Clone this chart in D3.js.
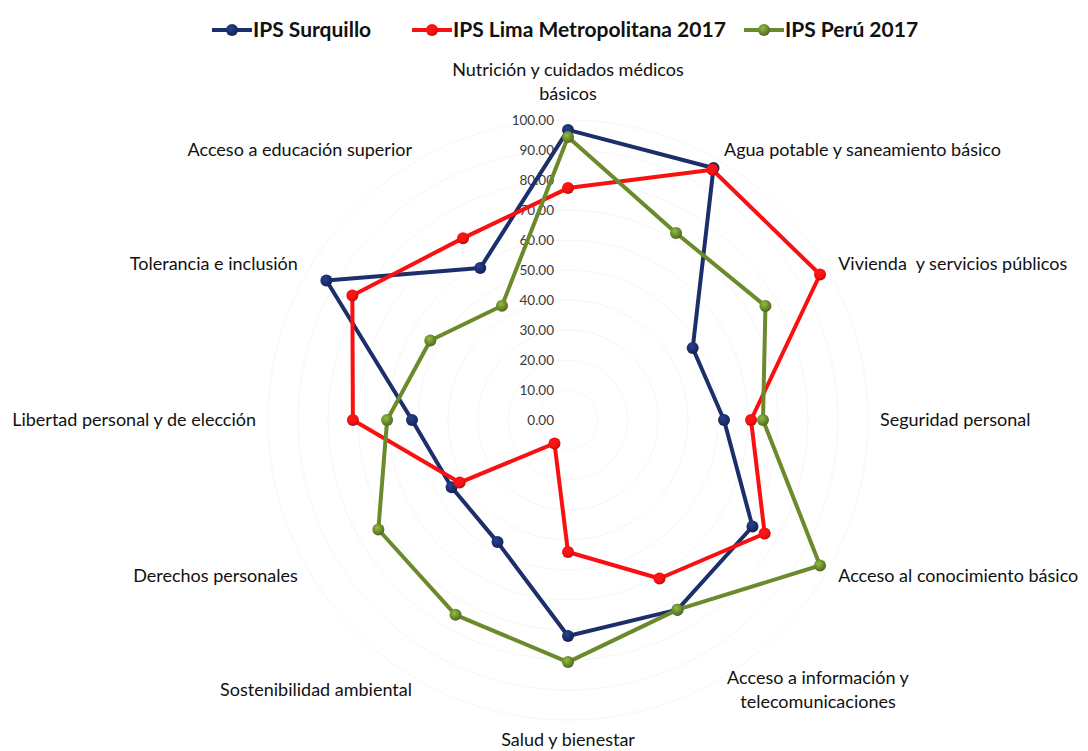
<!DOCTYPE html>
<html>
<head>
<meta charset="utf-8">
<script src="https://cdn.jsdelivr.net/npm/d3@7"></script>
<style>
  body { margin: 0; background: #fff; }
  svg { font-family: Lato, "Open Sans", sans-serif; }
</style>
</head>
<body>
<div id="chart"></div>
<script>

var width = 1088,
    height = 751;

// data, clockwise from the top
var categories = [
  ["Nutrición y cuidados médicos", "básicos"],
  ["Agua potable y saneamiento básico"],
  ["Vivienda  y servicios públicos"],
  ["Seguridad personal"],
  ["Acceso al conocimiento básico"],
  ["Acceso a información y", "telecomunicaciones"],
  ["Salud y bienestar"],
  ["Sostenibilidad ambiental"],
  ["Derechos personales"],
  ["Libertad personal y de elección"],
  ["Tolerancia e inclusión"],
  ["Acceso a educación superior"]
];

var surquillo = [96.7, 97.0, 48.0, 52.0, 71.0, 73.0, 72.0, 47.0, 44.8, 52.0, 93.0, 58.5];
var lima      = [77.3, 96.3, 97.0, 61.0, 75.7, 61.0, 44.0, 9.0, 41.7, 71.7, 83.0, 70.0];
var peru      = [94.3, 72.0, 76.0, 65.0, 97.0, 73.0, 80.7, 75.0, 73.0, 60.3, 53.0, 44.0];

var seriesNames = ["IPS Surquillo", "IPS Lima Metropolitana 2017", "IPS Perú 2017"];
var seriesColors = ["#1c2f6b", "#fa1010", "#6a8a2c"];
var seriesValues = [surquillo, lima, peru];

var ticks = [0, 10, 20, 30, 40, 50, 60, 70, 80, 90, 100];

var cx = 568, cy = 420;

var r = d3.scaleLinear()
    .domain([0, 100])
    .range([0, 300]);

var angle = d3.scaleLinear()
    .domain([0, categories.length])
    .range([0, 2 * Math.PI]);

var svg = d3.select("#chart").append("svg")
    .attr("width", width)
    .attr("height", height);

// gradients for the shaded markers
var defs = svg.append("defs");
seriesColors.forEach(function(c, i){
  var g = defs.append("radialGradient")
      .attr("id", "mk" + i)
      .attr("cx", "40%").attr("cy", "35%").attr("r", "65%");
  g.append("stop").attr("offset", "0%").attr("stop-color", d3.color(c).brighter(0.9));
  g.append("stop").attr("offset", "60%").attr("stop-color", c);
  g.append("stop").attr("offset", "100%").attr("stop-color", d3.color(c).darker(0.8));
});

var plot = svg.append("g")
    .attr("transform", "translate(" + cx + "," + cy + ")");

// very faint grid
plot.selectAll(".grid")
    .data(ticks.slice(1))
    .enter().append("circle")
    .attr("class", "grid")
    .attr("r", function(d){ return r(d); })
    .attr("fill", "none")
    .attr("stroke", "#f6f6f6")
    .attr("stroke-width", 1);

// value labels along the top axis
plot.selectAll(".tick")
    .data(ticks)
    .enter().append("text")
    .attr("class", "tick")
    .attr("x", -14)
    .attr("y", function(d){ return -r(d); })
    .attr("dy", "0.35em")
    .attr("text-anchor", "end")
    .attr("font-size", 13.5)
    .attr("fill", "#3a3a3a")
    .text(function(d){ return d.toFixed(2); });

// series
var line = d3.lineRadial()
    .angle(function(d, i){ return angle(i); })
    .radius(function(d){ return r(d); })
    .curve(d3.curveLinearClosed);

seriesValues.forEach(function(vals, s){
  var g = plot.append("g");
  g.append("path")
    .datum(vals)
    .attr("d", line)
    .attr("fill", "none")
    .attr("stroke", seriesColors[s])
    .attr("stroke-width", 4)
    .attr("stroke-linejoin", "round");
  g.selectAll("circle")
    .data(vals)
    .enter().append("circle")
    .attr("cx", function(d, i){ return r(d) * Math.sin(angle(i)); })
    .attr("cy", function(d, i){ return -r(d) * Math.cos(angle(i)); })
    .attr("r", 6)
    .attr("fill", "url(#mk" + s + ")");
});

// category labels
var labR = 312, lineH = 24;
categories.forEach(function(lines, i){
  var a = angle(i);
  var x = labR * Math.sin(a), y = -labR * Math.cos(a);
  var sx = Math.sin(a), cyy = Math.cos(a);
  var anchor = Math.abs(sx) < 0.01 ? "middle" : (sx > 0 ? "start" : "end");
  var t = plot.append("text")
      .attr("font-size", 18)
      .attr("fill", "#111")
      .style("white-space", "pre")
      .attr("text-anchor", anchor);
  var n = lines.length;
  var y0;
  if (Math.abs(sx) < 0.01) {
    y0 = cyy > 0 ? y - (n - 1) * lineH - 8 : y + 14;
  } else {
    y0 = y - (n - 1) * lineH / 2 + 6;
  }
  if (n > 1 && anchor == "start") {
    // two-line block centred on its own width
    t.attr("text-anchor", "middle");
    x = x + 94;
  }
  lines.forEach(function(s, k){
    t.append("tspan")
      .attr("x", x)
      .attr("y", y0 + k * lineH)
      .text(s);
  });
});

// legend
var legX = [212, 412, 744];
var leg = svg.append("g");
seriesNames.forEach(function(n, i){
  var g = leg.append("g").attr("transform", "translate(" + legX[i] + ",30)");
  g.append("line")
    .attr("x1", 0).attr("x2", 40)
    .attr("stroke", seriesColors[i])
    .attr("stroke-width", 4);
  g.append("circle")
    .attr("cx", 20).attr("r", 6)
    .attr("fill", "url(#mk" + i + ")");
  g.append("text")
    .attr("x", 41)
    .attr("dy", "0.35em")
    .attr("font-size", 21)
    .attr("font-weight", "bold")
    .attr("fill", "#111")
    .text(n);
});

</script>
</body>
</html>
